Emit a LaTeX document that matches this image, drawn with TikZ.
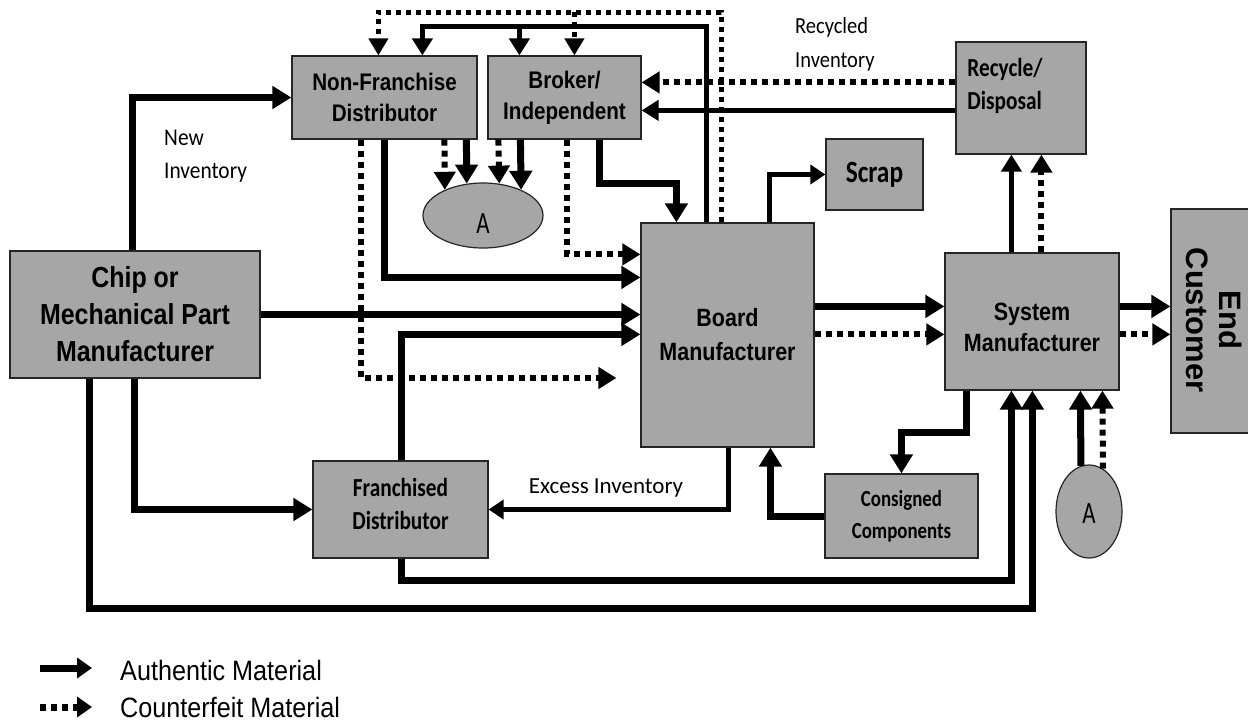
\documentclass[tikz,border=0pt]{standalone}
\usepackage{fontspec}
\setmainfont{Liberation Sans}
\newfontfamily\arb[FakeStretch=0.86]{Liberation Sans}
\newfontfamily\arw{Liberation Sans}
\newfontfamily\calb{Carlito}
\newfontfamily\calbn[FakeStretch=0.82]{Carlito}
\newfontfamily\calbm[FakeStretch=0.89]{Carlito}
\newfontfamily\calbA[FakeStretch=0.74]{Carlito}
\newfontfamily\arn[FakeStretch=0.9]{Liberation Sans}
\usetikzlibrary{arrows.meta,calc,shapes.geometric}
\definecolor{boxgray}{RGB}{166,166,166}
\begin{document}
\begin{tikzpicture}[x=1pt,y=-1pt,
  box/.style={draw=black!85, line width=1.2pt, fill=boxgray, inner sep=0pt, align=center, text=black},
  calf/.style={font=\calbn\bfseries\fontsize{26}{33}\selectfont},
  lblf/.style={font=\calbm\fontsize{24}{33}\selectfont},
  auth/.style={line width=7pt, -{Triangle[length=19pt,width=22pt]}},
  authm/.style={line width=5pt, -{Triangle[length=17pt,width=20pt]}},
  auths/.style={line width=4.5pt, -{Triangle[length=15pt,width=19pt]}},
  cf/.style={line width=6pt, dash pattern=on 6pt off 5pt, -{Triangle[length=18pt,width=21pt]}},
  cfm/.style={line width=5pt, dash pattern=on 5pt off 5pt, -{Triangle[length=17pt,width=19pt]}}
]
\useasboundingbox (0,0) rectangle (1248,723);

% boxes
\node[box, minimum width=250pt, minimum height=127pt, font=\arb\bfseries\fontsize{29}{37}\selectfont] (chip) at (135,314.5) {Chip or\\Mechanical Part\\Manufacturer};
\node[box, minimum width=185pt, minimum height=83pt, font=\arb\bfseries\fontsize{24}{31}\selectfont] (nfd) at (384.5,97.5) {Non-Franchise\\Distributor};
\node[box, minimum width=153pt, minimum height=83pt, font=\arb\bfseries\fontsize{24}{31}\selectfont] (bro) at (564.5,97.5) {Broker/\\Independent};
\node[box, ellipse, minimum width=120pt, minimum height=65pt,
  label={[yshift=-8pt, font=\calbA\fontsize{31}{34}\selectfont]center:A}] (a1) at (483,215.5) {};
\node[box, minimum width=173pt, minimum height=224pt, font=\arb\bfseries\fontsize{25}{34}\selectfont] (board) at (727.5,335) {Board\\Manufacturer};
\node[box, minimum width=97pt, minimum height=71pt, font=\calbn\bfseries\fontsize{31}{34}\selectfont] (scrap) at (874.5,174.5) {Scrap};
\node[box, minimum width=130pt, minimum height=112pt,
  label={[align=left, calf, xshift=-16pt, yshift=12pt]center:Recycle/\\Disposal}] (rec) at (1021,98) {};
\node[box, minimum width=174pt, minimum height=137pt,
  label={[align=center, yshift=-6pt, font=\arb\bfseries\fontsize{25}{31}\selectfont]center:System\\Manufacturer}] (sys) at (1032,321.5) {};
\node[box, minimum width=81pt, minimum height=224pt,
  label={[rotate=-90, xshift=-1pt, yshift=2.5pt, align=center, font=\arw\bfseries\fontsize{31}{33}\selectfont]center:End\\Customer}] (endc) at (1211.5,321) {};
\node[box, minimum width=153pt, minimum height=84pt, font=\calbn\bfseries\fontsize{23}{32}\selectfont] (cons) at (901.5,516) {Consigned\\Components};
\node[box, ellipse, minimum width=66pt, minimum height=93pt,
  label={[yshift=-2pt, font=\calbA\fontsize{31}{34}\selectfont]center:A}] (a2) at (1089,511.5) {};
\node[box, minimum width=175pt, minimum height=97pt,
  label={[align=center, yshift=6pt, calf]center:Franchised\\Distributor}] (fran) at (400.5,509.5) {};

% labels
\node[anchor=west, align=left, lblf, inner sep=0pt] (newinv) at (164,156.5) {New\\Inventory};
\node[anchor=west, align=left, font=\calbm\fontsize{23}{34}\selectfont, inner sep=0pt] (recinv) at (795,44.5) {Recycled\\Inventory};
\node[anchor=center, font=\calb\fontsize{23}{28}\selectfont, inner sep=0pt] (excess) at (606,488) {Excess Inventory};

% connectors from chip manufacturer
\draw[auth] ($(chip.north west)+(123,0)$) |- (nfd.west);
\draw[auth] (chip.east) -- (chip.east -| board.west);
\draw[auth] ($(chip.south west)+(125,0)$) |- (fran.west);
\draw[auth] ($(chip.south west)+(80,0)$) -- ++(0,230) -| ($(sys.south west)+(88,0)$);

% franchised distributor
\draw[auth] ($(fran.south west)+(89,0)$) -- ++(0,22) -| ($(sys.south west)+(67,0)$);
\draw[auth] ($(fran.north west)+(89,0)$) |- ($(board.north west)+(0,112)$);

% non-franchise distributor
\draw[auth] ($(nfd.south west)+(93,0)$) |- ($(board.north west)+(0,55)$);
\coordinate (cfend) at ($(board.west)+(-24,43)$);
\draw[cf] ($(nfd.south west)+(70,0)$) |- (cfend);
\draw[cf] ($(nfd.south west)+(153,0)$) -- (a1.146);
\draw[auth] ($(nfd.south west)+(175,0)$) -- (a1.117);

% broker
\draw[cf] ($(bro.south west)+(80,0)$) |- ($(board.north west)+(0,32)$);
\draw[auth] ($(bro.south west)+(112,0)$) -- ++(0,44) -| ($(board.north west)+(36,0)$);
\draw[cf] ($(bro.south west)+(11,0)$) -- (a1.63);
\draw[auth] ($(bro.south west)+(33,0)$) -- (a1.34);

% board feedback to distributors
\draw[authm] ($(board.north west)+(66,0)$) -- ++(0,-196) -| ($(nfd.north west)+(131,0)$);
\draw[authm] ($(bro.north west)+(32,-29)$) -- ($(bro.north west)+(32,0)$);
\draw[cfm] ($(board.north west)+(81,0)$) -- ++(0,-210) -| ($(nfd.north west)+(87,0)$);
\draw[cfm] ($(bro.north west)+(87,-43)$) -- ($(bro.north west)+(87,0)$);

% board to scrap, system, franchised
\draw[auths] ($(board.north west)+(129,0)$) |- (scrap.west);
\draw[auth] ($(board.north east)+(0,84)$) -- ($(sys.north west)+(0,54)$);
\draw[cf] ($(board.north east)+(0,112)$) -- ($(sys.north west)+(0,82)$);
\draw[auths] ($(board.south west)+(88,0)$) |- (fran.east);

% system manufacturer
\draw[authm] ($(sys.north west)+(67,0)$) -- ($(rec.south west)+(56,0)$);
\draw[cf] ($(sys.north west)+(97,0)$) -- ($(rec.south west)+(86,0)$);
\draw[auth] ($(sys.north east)+(0,54)$) -- ($(endc.north west)+(0,98)$);
\draw[cf] ($(sys.north east)+(0,82)$) -- ($(endc.north west)+(0,126)$);
\draw[auth] ($(sys.south west)+(22,0)$) -- ++(0,42) -| ($(cons.north west)+(77,0)$);

% consigned to board
\draw[auth] (cons.west) -| ($(board.south west)+(130,0)$);

% recycle to broker
\draw[cf] ($(rec.north west)+(0,41)$) -- ($(bro.north east)+(0,27)$);
\draw[authm] ($(rec.north west)+(0,69)$) -- ($(bro.north east)+(0,55)$);

% A to system
\draw[auth] (a2.100) -- ($(sys.south west)+(136,0)$);
\draw[cf] (a2.72) -- ($(sys.south west)+(158,0)$);

% legend
\coordinate (la1) at (40,668);
\coordinate (la2) at (92,668);
\coordinate (lb1) at (40,707);
\coordinate (lb2) at (92,707);
\draw[line width=7pt, -{Triangle[length=15pt,width=20pt]}] (la1) -- (la2);
\draw[line width=7pt, dash pattern=on 6pt off 5pt, -{Triangle[length=15pt,width=20pt]}] (lb1) -- (lb2);
\node[anchor=base west, font=\arn\fontsize{28}{32}\selectfont, inner sep=0pt] (legA) at (120,680) {Authentic Material};
\node[anchor=base west, font=\arn\fontsize{28}{32}\selectfont, inner sep=0pt] (legC) at (120,717) {Counterfeit Material};
\end{tikzpicture}
\end{document}
